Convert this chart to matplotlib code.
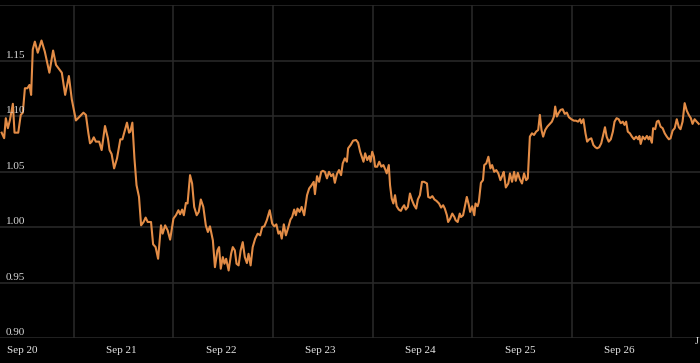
import matplotlib
matplotlib.use('Agg')
import matplotlib.pyplot as plt
import matplotlib.transforms as mtransforms

# hours since Sep 20 00:00
hours = [-4.9, -4.3, -3.9, -3.4, -2.9, -2.2, -1.8, -0.9, -0.3, 0.2, 0.7, 1.3, 1.8, 2.2, 2.6, 3.1, 3.8, 4.7, 5.5, 6.6,
         7.5, 8.2, 9.0, 9.6, 10.4, 11.3, 12.0, 13.0, 14.8, 15.4, 16.0, 16.4, 16.8, 17.3, 17.8, 18.6, 19.2, 20.0, 20.7, 21.1,
         21.6, 22.2, 22.9, 23.7, 24.2, 24.7, 25.3, 25.8, 26.1, 26.6, 27.1, 27.6, 28.2, 28.7, 29.3, 29.8, 30.3, 31.1, 31.6, 32.2,
         32.8, 33.5, 33.9, 34.5, 35.1, 35.7, 36.5, 37.1, 37.7, 38.1, 38.6, 39.0, 39.5, 39.9, 40.5, 41.0, 41.5, 42.1, 42.6, 43.1,
         43.7, 44.3, 44.8, 45.3, 46.0, 46.5, 47.1, 47.5, 47.9, 48.4, 48.8, 49.2, 49.8, 50.4, 50.8, 51.3, 51.7, 52.2, 52.7, 53.2,
         53.7, 54.2, 54.6, 55.1, 55.6, 56.2, 56.8, 57.4, 57.9, 58.4, 59.0, 59.7, 60.3, 60.8, 61.3, 61.8, 62.2, 62.6, 63.1, 63.6,
         64.2, 64.7, 65.1, 65.6, 66.0, 66.4, 66.9, 67.4, 68.0, 68.7, 69.2, 69.8, 70.3, 70.6, 71.1, 71.6, 72.1, 72.5, 73.0, 73.5,
         74.0, 74.5, 75.0, 75.4, 75.9, 76.4, 76.9, 77.3, 77.8, 78.3, 78.6, 79.2, 79.8, 80.5, 81.0, 81.5, 81.9, 82.3, 82.7, 83.2,
         83.7, 84.0, 84.4, 84.8, 85.1, 85.6, 86.1, 86.6, 87.1, 87.6, 87.9, 88.4, 88.7, 89.1, 89.5, 89.9, 90.3, 90.8, 91.3, 91.7,
         92.1, 92.5, 93.0, 93.5, 94.0, 94.5, 95.0, 95.4, 95.9, 96.4, 96.9, 97.6, 97.9, 98.4, 98.9, 99.4, 99.9, 100.5, 101.0, 101.5,
         101.9, 102.4, 102.7, 103.2, 103.7, 104.2, 104.5, 105.0, 105.5, 105.8, 106.3, 106.8, 107.2, 107.7, 108.0, 108.5, 109.0, 109.3, 109.8, 110.1,
         110.6, 111.1, 111.4, 111.9, 112.4, 112.9, 113.3, 113.8, 114.3, 114.8, 115.3, 115.8, 116.1, 116.6, 117.2, 117.6, 118.1, 118.6, 119.0, 119.5,
         120.0, 120.5, 121.0, 121.5, 121.9, 122.4, 122.9, 123.4, 123.9, 124.4, 124.8, 125.2, 125.6, 126.1, 126.6, 127.2, 127.7, 128.2, 128.5, 128.9,
         129.3, 129.8, 130.3, 130.8, 131.3, 131.8, 132.4, 133.0, 133.5, 134.0, 134.5, 134.8, 135.3, 135.8, 136.2, 136.7, 137.2, 137.7, 138.2, 138.6,
         139.1, 139.6, 140.5, 140.9, 141.4, 141.9, 142.4, 142.8, 143.3, 143.8, 144.3, 144.8, 145.2, 145.6, 146.0, 146.5, 147.0, 147.5, 148.0, 148.5,
         148.8, 149.1, 149.6, 150.1, 150.6, 151.0, 151.3, 151.8, 152.1, 152.6, 153.0, 153.4, 153.9, 154.4, 154.9, 155.4, 155.9, 156.3, 156.8, 157.3,
         157.8, 158.3, 158.7, 159.2, 159.7, 160.2, 160.7, 161.2, 161.6, 162.1, 162.6, 163.1]

values = [1.085, 1.080, 1.098, 1.089, 1.0965, 1.111, 1.085, 1.085, 1.101, 1.103, 1.125, 1.125, 1.128, 1.119, 1.160, 1.167, 1.157, 1.168, 1.158, 1.139,
          1.159, 1.146, 1.142, 1.139, 1.119, 1.136, 1.115, 1.096, 1.103, 1.101, 1.0845, 1.0754, 1.0769, 1.0808, 1.0769, 1.0769, 1.0693, 1.091, 1.080, 1.0693,
          1.0657, 1.0528, 1.0618, 1.079, 1.079, 1.0859, 1.094, 1.085, 1.0859, 1.094, 1.0618, 1.0377, 1.0271, 1.0015, 1.0045, 1.0085, 1.0045, 1.0045, 0.9844, 0.9819,
          0.9714, 1.0015, 0.994, 1.0015, 0.997, 0.9886, 1.0076, 1.0106, 1.0151, 1.0115, 1.0157, 1.0106, 1.0217, 1.0212, 1.0467, 1.0392, 1.0181, 1.0106, 1.0136, 1.0248,
          1.0181, 1.0015, 0.9955, 1.0006, 0.988, 0.9638, 0.9789, 0.9819, 0.9624, 0.9729, 0.9669, 0.9714, 0.9608, 0.9759, 0.9819, 0.9789, 0.9669, 0.9654, 0.9789, 0.9864,
          0.9729, 0.9675, 0.9759, 0.9654, 0.9819, 0.9895, 0.994, 0.9925, 1.000, 1.0006, 1.0061, 1.0151, 1.0031, 1.0006, 1.0024, 0.994, 0.9961, 0.9895, 1.0024, 0.9925,
          1.000, 1.0067, 1.009, 1.0157, 1.0106, 1.0166, 1.0136, 1.0181, 1.0106, 1.0287, 1.0347, 1.0377, 1.0407, 1.0296, 1.0458, 1.0407, 1.0497, 1.0506, 1.0497, 1.0438,
          1.0497, 1.0458, 1.0477, 1.0398, 1.0477, 1.0513, 1.0467, 1.0573, 1.0618, 1.0588, 1.0709, 1.0739, 1.0778, 1.0784, 1.076, 1.0678, 1.0633, 1.0588, 1.0664, 1.0603,
          1.0639, 1.0588, 1.0678, 1.0633, 1.0543, 1.0543, 1.0588, 1.0543, 1.0558, 1.0513, 1.0483, 1.0558, 1.0377, 1.0257, 1.0212, 1.0287, 1.0187, 1.0157, 1.0145, 1.0175,
          1.0196, 1.0157, 1.0181, 1.0302, 1.0241, 1.0196, 1.0166, 1.0248, 1.0287, 1.0407, 1.0407, 1.0392, 1.0271, 1.0262, 1.0278, 1.0248, 1.0235, 1.0212, 1.0175, 1.0196,
          1.0166, 1.0106, 1.0045, 1.0076, 1.0121, 1.009, 1.0061, 1.0045, 1.0121, 1.009, 1.0106, 1.0196, 1.0271, 1.0196, 1.0136, 1.0187, 1.0106, 1.0212, 1.0187, 1.0226,
          1.0398, 1.0422, 1.0558, 1.0573, 1.0633, 1.0528, 1.0558, 1.0497, 1.0513, 1.0483, 1.0422, 1.0467, 1.0497, 1.0356, 1.0392, 1.0483, 1.0407, 1.0497, 1.0416, 1.0488,
          1.0429, 1.0392, 1.0483, 1.0422, 1.0438, 1.0814, 1.0844, 1.0829, 1.0859, 1.0874, 1.101, 1.0874, 1.0814, 1.0874, 1.0904, 1.0929, 1.0949, 1.0995, 1.1085, 1.0995,
          1.1025, 1.1055, 1.1061, 1.1019, 1.1031, 1.0989, 1.0971, 1.0958, 1.0958, 1.0949, 1.0971, 1.0935, 1.0971, 1.0844, 1.0769, 1.079, 1.0799, 1.0739, 1.0718, 1.0709,
          1.0718, 1.0754, 1.0899, 1.0814, 1.0769, 1.079, 1.0859, 1.0949, 1.098, 1.0971, 1.0935, 1.0949, 1.092, 1.0949, 1.0859, 1.0844, 1.0814, 1.079, 1.0814, 1.079,
          1.082, 1.0748, 1.0814, 1.079, 1.082, 1.079, 1.0814, 1.0759, 1.089, 1.0881, 1.0949, 1.0958, 1.0904, 1.089, 1.0844, 1.0814, 1.079, 1.0799, 1.0868, 1.089,
          1.0971, 1.0899, 1.0881, 1.0949, 1.1116, 1.1049, 1.101, 1.098, 1.0929, 1.0971, 1.0949, 1.0929]

day_labels = ['Sep 20', 'Sep 21', 'Sep 22', 'Sep 23', 'Sep 24', 'Sep 25', 'Sep 26']
y_ticks = [0.90, 0.95, 1.00, 1.05, 1.10, 1.15, 1.20]
y_labels = ['0.90', '0.95', '1.00', '1.05', '1.10', '1.15']

plt.rcParams['font.family'] = ['Liberation Serif', 'DejaVu Serif']

fig = plt.figure(figsize=(7, 3.63), dpi=100, facecolor='black')
ax = fig.add_axes([0, 25 / 363, 1, 333 / 363], facecolor='black')

ax.plot(hours, values, color='#E38C46', lw=1.5, zorder=3, solid_joinstyle='round')

ax.set_xlim(-5.3, 163.4)
ax.set_ylim(0.90, 1.20)

# day labels at midnight, grid lines half a day later
ax.set_xticks([24 * i for i in range(len(day_labels))])
ax.set_xticklabels(day_labels)
ax.set_xticks([24 * i + 12.5 for i in range(len(day_labels))], minor=True)
ax.set_yticks(y_ticks)
ax.set_yticklabels([])
ax.tick_params(axis='both', which='both', length=0)
ax.tick_params(axis='x', which='major', colors='#e6e6e6', labelsize=8, pad=5.5)
ax.grid(False)
ax.grid(True, axis='y', color='#2a2a2a', lw=1.1)
ax.grid(True, axis='x', which='minor', color='#2a2a2a', lw=1.1)
for s in ax.spines.values():
    s.set_visible(False)

trans = mtransforms.blended_transform_factory(ax.transAxes, ax.transData)
for v, lab in zip(y_ticks, y_labels):
    ax.text(0.008, v + 0.0008, lab, transform=trans, color='#d9d9d9', fontsize=8,
            ha='left', va='bottom', zorder=4)

# cut-off label at the right edge
fig.text(695 / 700, 1 - 342 / 363, 'J', color='#e6e6e6', fontsize=7.5, ha='left', va='center')

fig.savefig('out.png', dpi=100, facecolor='black')
